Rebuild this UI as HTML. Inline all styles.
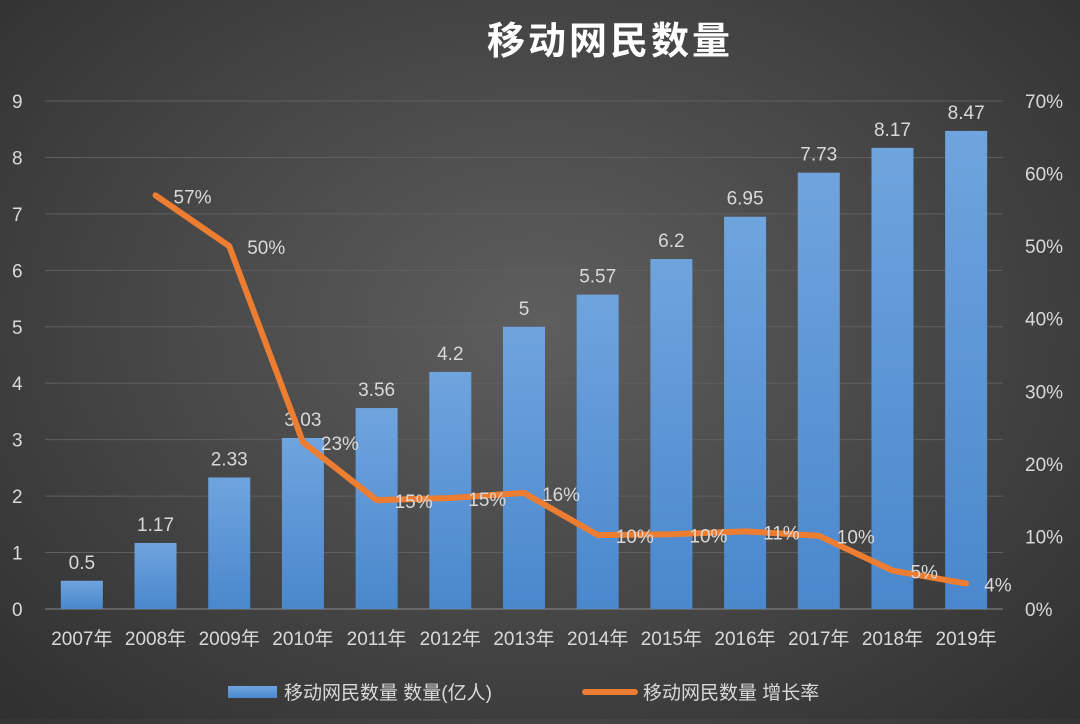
<!DOCTYPE html>
<html><head><meta charset="utf-8"><style>
html,body{margin:0;padding:0}
body{width:1080px;height:719px;overflow:hidden;background:radial-gradient(ellipse at 50% 45%,#5e5e5e 0%,#474747 50%,#2f2f2f 100%);font-family:"Liberation Sans","Noto Sans CJK SC",sans-serif}
svg text{font-family:"Liberation Sans","Noto Sans CJK SC",sans-serif}
</style></head><body>
<svg id="chart" width="1080" height="719" xmlns="http://www.w3.org/2000/svg">
<defs>
<linearGradient id="barg" x1="0" y1="0" x2="0" y2="1"><stop offset="0" stop-color="#6fa4de"/><stop offset="1" stop-color="#4a87cc"/></linearGradient>
</defs>
<text x="610" y="54" fill="#ffffff" font-size="38" text-anchor="middle" font-weight="bold" letter-spacing="3">移动网民数量</text>
<g id="grid"></g><g id="bars"></g><g id="line"></g><g id="axes"></g>
<g>
<rect x="228" y="686" width="49" height="12" fill="url(#barg)"/>
<text x="284" y="699" fill="#d9d9d9" font-size="19">移动网民数量 数量(亿人)</text>
<line x1="585" y1="692" x2="635" y2="692" stroke="#ed7d31" stroke-width="6" stroke-linecap="round"/>
<text x="643" y="699" fill="#d9d9d9" font-size="19">移动网民数量 增长率</text>
</g>
</svg>
<script>
const categories=["2007年","2008年","2009年","2010年","2011年","2012年","2013年","2014年","2015年","2016年","2017年","2018年","2019年"];
const users=[0.5,1.17,2.33,3.03,3.56,4.2,5,5.57,6.2,6.95,7.73,8.17,8.47];
const growth=[null,57,50,23,15,15.3,16,10.2,10.3,10.7,10.1,5.3,3.5];
const growthLabels=["","57%","50%","23%","15%","15%","16%","10%","10%","11%","10%","5%","4%"];
const leftTicks=[0,1,2,3,4,5,6,7,8,9];
const rightTicks=["0%","10%","20%","30%","40%","50%","60%","70%"];
const NS="http://www.w3.org/2000/svg";
const y0=609,yTop=101,left=45,right=1003;
const yL=v=>y0-(y0-yTop)*v/9;
const yR=v=>y0-(y0-yTop)*v/70;
const step=(right-left)/categories.length;
const xC=i=>left+step*(i+0.5);
function mk(tag,attrs,parent){const e=document.createElementNS(NS,tag);for(const k in attrs)e.setAttribute(k,attrs[k]);document.getElementById(parent).appendChild(e);return e;}
leftTicks.forEach(t=>{
 const g=mk("line",{x1:left,x2:right,y1:yL(t),y2:yL(t),stroke:t===0?"#8a8a8a":"#5f5f5f","stroke-width":1},"grid");
 
 
 const l=mk("text",{x:12,y:yL(t)+7,fill:"#d9d9d9","font-size":19},"axes");l.textContent=t;
 
 
});
rightTicks.forEach((t,i)=>{
 const l=mk("text",{x:1025,y:yR(i*10)+7,fill:"#d9d9d9","font-size":19},"axes");l.textContent=t;
 
 
});
categories.forEach((c,i)=>{
 const b=mk("rect",{x:xC(i)-21,y:yL(users[i]),width:42,height:y0-yL(users[i]),fill:"url(#barg)"},"bars");
 
 
 const v=mk("text",{x:xC(i),y:yL(users[i])-12,fill:"#d9d9d9","font-size":19,"text-anchor":"middle"},"bars");v.textContent=users[i];
 
 
 const xl=mk("text",{x:xC(i),y:645,fill:"#d9d9d9","font-size":19,"text-anchor":"middle"},"axes");xl.textContent=c;
 
 
});
let pts=[];growth.forEach((g,i)=>{if(g!==null)pts.push(xC(i)+","+yR(g));});
const pl=mk("polyline",{points:pts.join(" "),fill:"none",stroke:"#ed7d31","stroke-width":6,"stroke-linejoin":"round","stroke-linecap":"round"},"line");


growth.forEach((g,i)=>{if(g===null)return;
 const t=mk("text",{x:xC(i)+18,y:yR(g)+8,fill:"#d9d9d9","font-size":19},"line");t.textContent=growthLabels[i];
 
 
});
</script>
</body></html>
